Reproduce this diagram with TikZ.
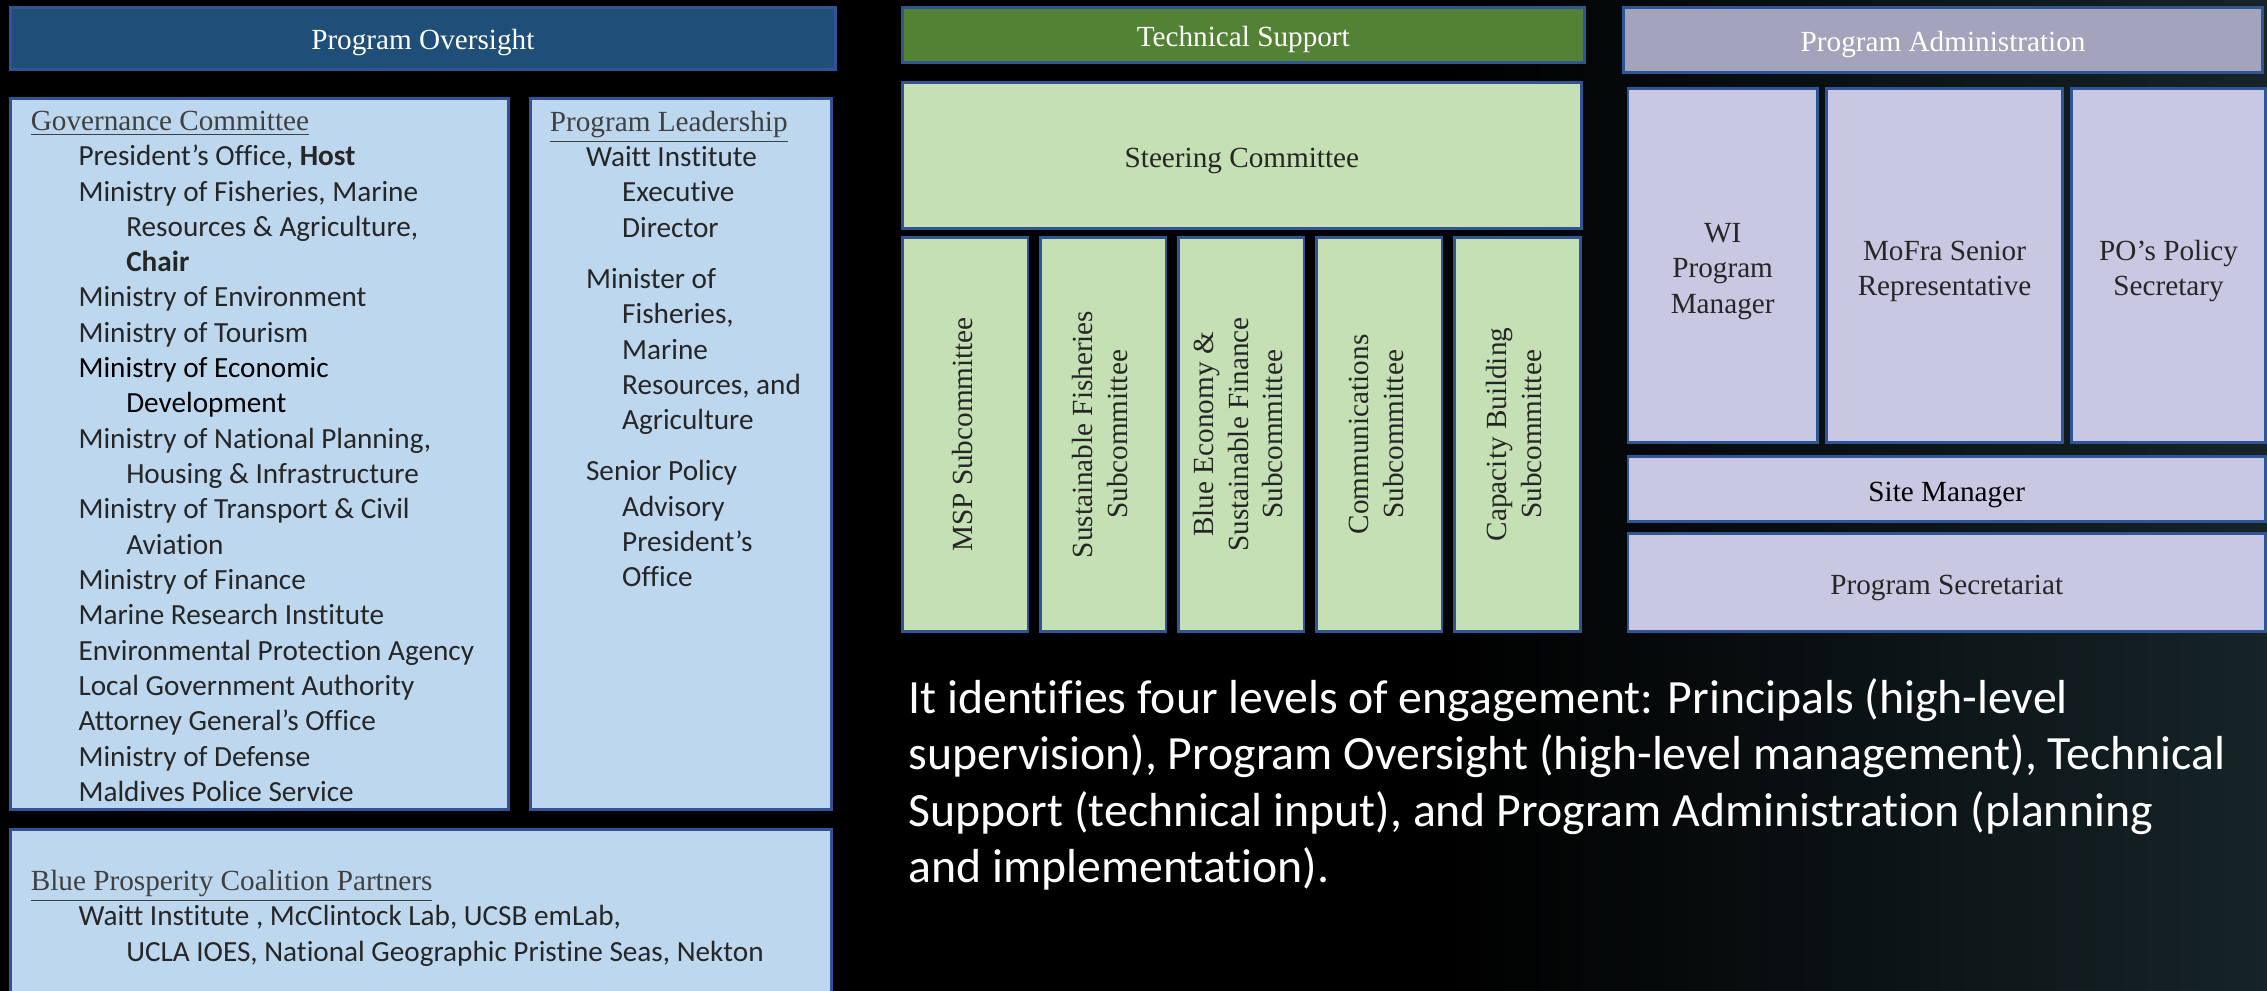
\documentclass[tikz,border=0pt]{standalone}
\usepackage{fontspec}
\usepackage{graphicx}
\setmainfont{Liberation Serif}
\newfontfamily\calib[Ligatures={TeX,NoCommon}]{Carlito}
\usetikzlibrary{positioning}

\definecolor{oversight}{HTML}{1F4E79}
\definecolor{edgeblue}{HTML}{2F5597}
\definecolor{paleblue}{HTML}{BDD7EE}
\definecolor{techgreen}{HTML}{548235}
\definecolor{palegreen}{HTML}{C5E0B4}
\definecolor{admingray}{HTML}{A3A3BC}
\definecolor{lavender}{HTML}{C8C8E2}
\definecolor{ink}{HTML}{262626}
\definecolor{headgray}{HTML}{404040}
\definecolor{seabed}{RGB}{22,36,40}

\tikzstyle{panel}=[
	draw=edgeblue,
	line width=1.1pt,
	shape=rectangle,
	inner sep=0pt,
	outer sep=0pt,
	anchor=north west
]
\tikzstyle{header} = [panel, text=white, font=\fontsize{11.5}{13.7}\selectfont, execute at begin node={\rule{0pt}{11.5pt}}]
\tikzstyle{cell} = [panel, text=ink, align=center, font=\fontsize{11.5}{13.7}\selectfont, execute at begin node={\rule{0pt}{12pt}}]
\tikzstyle{listtext} = [inner sep=0pt, align=left, text=ink, font=\calib\fontsize{11.5}{13.9}\selectfont]
\tikzstyle{summary} = [anchor=north west, inner sep=0pt, align=left, text=white, font=\calib\fontsize{18.8}{22.2}\selectfont]

\newcommand{\uptext}[1]{\rotatebox{90}{\begin{tabular}{@{}c@{}}#1\end{tabular}}}
\newcommand{\listhead}[1]{\textcolor{headgray}{\rmfamily\underline{#1}}}
\newcommand{\topgap}{\rule{0pt}{12.5pt}}

\begin{document}
\begin{tikzpicture}[x=0.02cm, y=-0.02cm, node distance=0.17cm]

			\useasboundingbox (0,0) rectangle (1568,685);
			\fill[black] (-5,-5) rectangle (1573,690);
			\shade[left color=black, right color=seabed] (1000,-5) rectangle (1573,690);

			\node[header, fill=oversight, minimum width=11.42cm, minimum height=0.86cm]	(oversight) at (7,5) {Program Oversight};
			\node[panel, fill=paleblue, minimum width=6.90cm, minimum height=9.84cm]	(governance) at (7,68) {};
			\node[panel, fill=paleblue, minimum width=4.16cm, minimum height=9.84cm]	(leadership) at (367,68) {};
			\node[panel, fill=paleblue, minimum width=11.36cm, minimum height=2.30cm]	(partners) at (7,574) {};

			\node[listtext, below right=0.17cm and 0.28cm of governance.north west]	(govlist) {%
				\listhead{Governance Committee}\\
				\hspace*{0.66cm}President’s Office, \textbf{Host}\\
				\hspace*{0.66cm}Ministry of Fisheries, Marine\\
				\hspace*{1.32cm}Resources \& Agriculture,\\
				\hspace*{1.32cm}\textbf{Chair}\\
				\hspace*{0.66cm}Ministry of Environment\\
				\hspace*{0.66cm}Ministry of Tourism\\
				\hspace*{0.66cm}\textcolor{black}{Ministry of Economic}\\
				\hspace*{1.32cm}\textcolor{black}{Development}\\
				\hspace*{0.66cm}Ministry of National Planning,\\
				\hspace*{1.32cm}Housing \& Infrastructure\\
				\hspace*{0.66cm}Ministry of Transport \& Civil\\
				\hspace*{1.32cm}Aviation\\
				\hspace*{0.66cm}Ministry of Finance\\
				\hspace*{0.66cm}Marine Research Institute\\
				\hspace*{0.66cm}Environmental Protection Agency\\
				\hspace*{0.66cm}Local Government Authority\\
				\hspace*{0.66cm}Attorney General’s Office\\
				\hspace*{0.66cm}Ministry of Defense\\
				\hspace*{0.66cm}Maldives Police Service};
			\node[listtext, below right=0.17cm and 0.26cm of leadership.north west]	(leadlist) {%
				\listhead{Program Leadership}\\
				\hspace*{0.50cm}Waitt Institute\\
				\hspace*{1.00cm}Executive\\
				\hspace*{1.00cm}Director\\[0.22cm]
				\hspace*{0.50cm}Minister of\\
				\hspace*{1.00cm}Fisheries,\\
				\hspace*{1.00cm}Marine\\
				\hspace*{1.00cm}Resources, and\\
				\hspace*{1.00cm}Agriculture\\[0.22cm]
				\hspace*{0.50cm}Senior Policy\\
				\hspace*{1.00cm}Advisory\\
				\hspace*{1.00cm}President’s\\
				\hspace*{1.00cm}Office};
			\node[listtext, below right=0.55cm and 0.28cm of partners.north west]	(partlist) {%
				\listhead{Blue Prosperity Coalition Partners}\\
				\hspace*{0.66cm}Waitt Institute , McClintock Lab, UCSB emLab,\\
				\hspace*{1.32cm}UCLA IOES, National Geographic Pristine Seas, Nekton};

			\node[header, fill=techgreen, minimum width=9.44cm, minimum height=0.76cm]	(technical) at (624,5) {Technical Support};
			\node[cell, fill=palegreen, minimum width=9.40cm, minimum height=2.02cm]	(steering) at (624,57) {Steering Committee};
			\node[cell, fill=palegreen, minimum width=1.74cm, minimum height=5.46cm]	(msp) at (624,164) {\uptext{MSP Subcommittee}};
			\node[cell, fill=palegreen, minimum width=1.74cm, minimum height=5.46cm]	(fisheries) [right=of msp] {\uptext{Sustainable Fisheries\\Subcommittee}};
			\node[cell, fill=palegreen, minimum width=1.74cm, minimum height=5.46cm]	(blueeco) [right=of fisheries] {\uptext{Blue Economy \&\\Sustainable Finance\\Subcommittee}};
			\node[cell, fill=palegreen, minimum width=1.74cm, minimum height=5.46cm]	(comms) [right=of blueeco] {\uptext{Communications\\Subcommittee}};
			\node[cell, fill=palegreen, minimum width=1.74cm, minimum height=5.46cm]	(capacity) [right=of comms] {\uptext{Capacity Building\\Subcommittee}};

			\node[header, fill=admingray, minimum width=8.84cm, minimum height=0.90cm]	(administration) at (1123,5) {Program Administration};
			\node[cell, fill=lavender, minimum width=2.62cm, minimum height=4.90cm, font=\fontsize{11.5}{14.1}\selectfont]	(wi) at (1126,61) {\topgap WI\\Program\\Manager};
			\node[cell, fill=lavender, minimum width=3.26cm, minimum height=4.90cm, font=\fontsize{11.5}{14.1}\selectfont]	(mofra) [right=0.13cm of wi] {\topgap MoFra Senior\\Representative};
			\node[cell, fill=lavender, minimum width=2.68cm, minimum height=4.90cm, font=\fontsize{11.5}{14.1}\selectfont]	(posecretary) [right=0.13cm of mofra] {\topgap PO’s Policy\\Secretary};
			\node[cell, fill=lavender, text=black, minimum width=8.82cm, minimum height=0.90cm]	(site) [below=0.20cm of wi.south west, anchor=north west] {Site Manager};
			\node[cell, fill=lavender, minimum width=8.82cm, minimum height=1.36cm]	(secretariat) [below=0.16cm of site.south west, anchor=north west] {Program Secretariat};

			\node[summary]	(levels) at (628,469) {It identifies four levels of engagement: Principals (high-level\\
				supervision), Program Oversight (high-level management), Technical\\
				Support (technical input), and Program Administration (planning\\
				and implementation).};

\end{tikzpicture}
\end{document}
